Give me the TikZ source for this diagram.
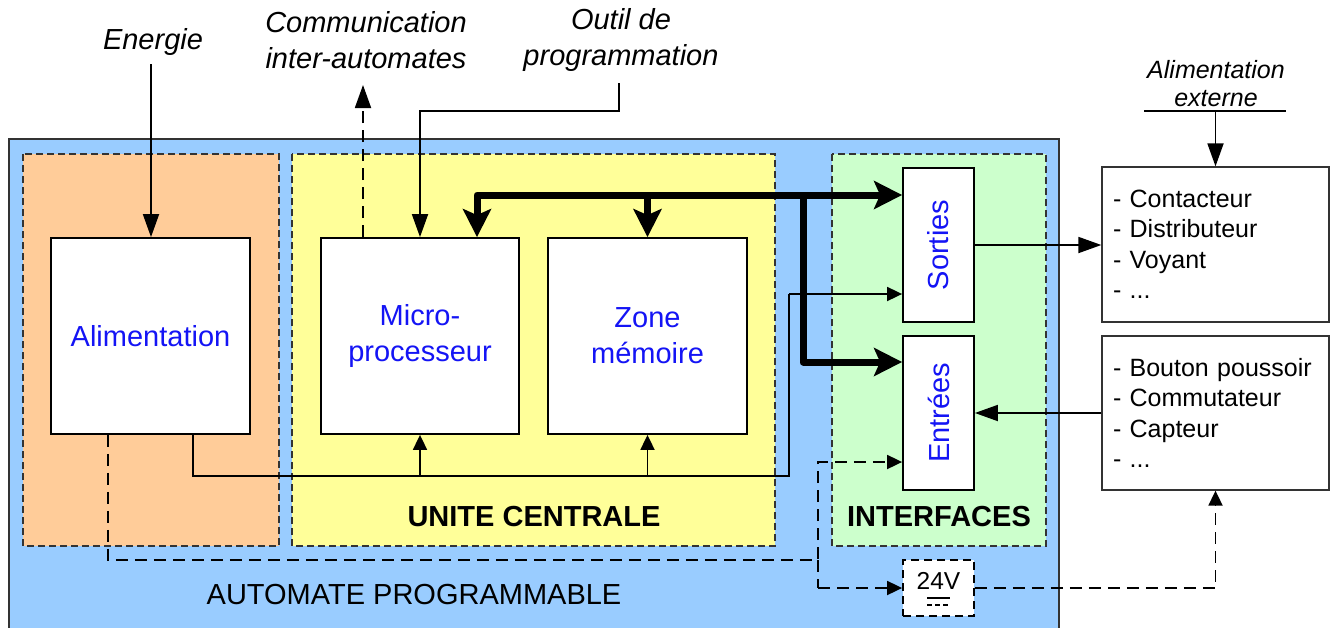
\documentclass[tikz,border=0pt]{standalone}
\usepackage{fontspec}
\setmainfont{Liberation Sans}
\usetikzlibrary{arrows.meta,calc}
\definecolor{bgblue}{HTML}{99CCFF}
\definecolor{orng}{HTML}{FFCC99}
\definecolor{yel}{HTML}{FFFF99}
\definecolor{grn}{HTML}{CCFFCC}
\definecolor{txtblue}{HTML}{1414F5}
\begin{document}
\begin{tikzpicture}[x=1pt,y=-1pt,
  box/.style={draw, fill=white, line width=1.8pt, inner sep=0pt, text=txtblue, font=\fontsize{29}{36}\selectfont, align=center},
  rbox/.style={draw=black!80, fill=white, line width=1.3pt, align=left, font=\fontsize{25}{30.5}\selectfont, text width=205pt, inner xsep=11pt, inner ysep=0pt, minimum width=227pt, minimum height=155pt},
  region/.style={draw=black!80, line width=1.3pt, dash pattern=on 7pt off 4pt},
  ln/.style={line width=1.8pt},
  dsh/.style={line width=1.8pt, dash pattern=on 12pt off 7pt},
  bigarr/.style={-{Triangle[length=23pt,width=16pt]}},
  smallarr/.style={-{Triangle[length=15pt,width=14pt]}},
  bus/.style={line width=7pt, line join=round},
  busarr/.style={-{Stealth[length=28pt,width=28pt,inset=6pt]}},
  lbl/.style={font=\fontsize{29}{36}\selectfont\itshape, align=center},
  reglbl/.style={font=\fontsize{29}{36}\selectfont\bfseries},
]
\useasboundingbox (0,0) rectangle (1331,627);
\fill[white] (0,0) rectangle (1331,627);
% background areas
\draw[fill=bgblue, draw=black!80, line width=1.3pt] (9,139) rectangle (1059,660);
\draw[region, fill=orng] (23,154) rectangle (279,546);
\draw[region, fill=yel] (292,154) rectangle (775,546);
\draw[region, fill=grn] (832,154) rectangle (1046,546);
\node[reglbl] (uc) at (534,517) {UNITE CENTRALE};
\node[reglbl] (itf) at (939,517) {INTERFACES};
\node[font=\fontsize{29}{36}\selectfont] (ap) at (414,595) {AUTOMATE PROGRAMMABLE};
% boxes
\node[box, minimum width=199pt, minimum height=196pt] (ali) at (150.5,336) {Alimentation};
\node[box, minimum width=198pt, minimum height=196pt] (micro) at (420,336) {Micro-\\processeur};
\node[box, minimum width=199pt, minimum height=196pt] (zone) at (647.5,336) {Zone\\mémoire};
\node[box, minimum width=71pt, minimum height=154pt] (sorties) at (938.5,245) {};
\node[text=txtblue, font=\fontsize{29}{36}\selectfont, rotate=90] (sortiesT) at (938.5,245) {Sorties};
\node[box, minimum width=71pt, minimum height=154pt] (entrees) at (938.5,413) {};
\node[text=txtblue, font=\fontsize{29}{36}\selectfont, rotate=90] (entreesT) at (938.5,413) {Entrées};
\node[rbox] (cont) at (1215.5,244.5) {- Contacteur\\- Distributeur\\- Voyant\\- ...};
\node[rbox, minimum height=154pt] (bouton) at (1215.5,413) {- Bouton poussoir\\- Commutateur\\- Capteur\\- ...};
\node[draw, dash pattern=on 8pt off 5pt, line width=1.8pt, fill=white, minimum width=71pt, minimum height=56pt, inner sep=0pt] (v24) at (938.5,588) {};
\node[font=\fontsize{24.5}{24}\selectfont] (v24T) at (938.5,581) {24V};
\draw[line width=1.3pt] (927,598) -- (950,598);
\draw[line width=1.3pt, dash pattern=on 5pt off 3pt] (927,605) -- (950,605);
% top labels
\node[lbl] (enl) at (153,42) {Energie};
\node[lbl] (coml) at (366,40) {Communication\\inter-automates};
\node[lbl] (outl) at (621,40) {Outil de\\programmation};
\node[font=\fontsize{25}{28}\selectfont\itshape, align=center] (ael) at (1216,84) {Alimentation\\externe};
% connectors
\coordinate (en) at (151,64);
\draw[ln,bigarr] (en) -- (en |- ali.north);
\coordinate (cm) at (363,85);
\draw[dsh,bigarr] (cm |- micro.north) -- (cm);
\coordinate (oa) at (619,83);
\coordinate (ob) at (619,111);
\draw[ln,bigarr] (oa) -- (ob) -| (micro.north);
\coordinate (aea) at (1144,111);
\coordinate (aeb) at (1286,111);
\draw[line width=1.3pt] (aea) -- (aeb);
\draw[ln,bigarr] (cont.north |- aea) -- (cont.north);
% bus
\coordinate (b1) at (477,195);
\coordinate (J1) at (803,195);
\coordinate (ey) at (803,362);
\draw[bus,busarr] (J1) -- (b1) -- (b1 |- micro.north);
\draw[bus,busarr] (b1) -- (J1 -| sorties.west);
\draw[bus,busarr] (zone.north |- b1) -- (zone.north);
\draw[bus,busarr] (J1) -- (ey) -- (ey -| entrees.west);
% feed
\coordinate (fa) at (193,476);
\coordinate (fb) at (789,476);
\coordinate (fc) at (789,294);
\draw[ln] (ali.south -| fa) -- (fa) -- (fb) -- (fc);
\draw[ln,smallarr] (fc) -- (fc -| sorties.west);
\draw[ln,smallarr] (micro.south |- fa) -- (micro.south);
\draw[ln,smallarr] (zone.south |- fa) -- (zone.south);
% dashed power
\coordinate (da) at (108,560);
\coordinate (db) at (818,560);
\coordinate (dc) at (818,462);
\coordinate (dd) at (818,588);
\draw[dsh,smallarr] (ali.south -| da) -- (da) -- (db) -- (dc) -- (dc -| entrees.west);
\draw[dsh] (db) -- (dd);
\draw[dsh,smallarr] (dd) -- (v24.west);
\draw[dsh,smallarr] (v24.east) -| (bouton.south);
% outside links
\draw[ln,bigarr] (sorties.east) -- (sorties.east -| cont.west);
\draw[ln,bigarr] (bouton.west) -- (entrees.east);
\end{tikzpicture}
\end{document}
